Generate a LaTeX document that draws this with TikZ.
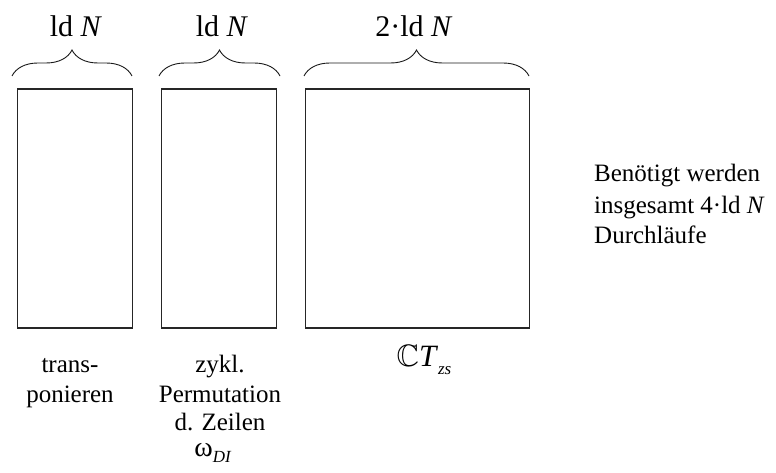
\documentclass[tikz,border=0pt]{standalone}
\usepackage{amssymb}
\DeclareFontFamily{U}{msb}{}
\DeclareFontShape{U}{msb}{m}{n}{<-> msbm10}{}
\usepackage{fontspec}
\setmainfont{Liberation Serif}
\usetikzlibrary{decorations.pathreplacing}
\tikzset{
  boxnode/.style={draw=black!85, line width=1.1pt, inner sep=0pt},
  bracepath/.style={draw=black!90, line width=0.9pt, decorate, decoration={brace, amplitude=26pt}},
  toplabel/.style={anchor=base, inner sep=0pt, font=\fontsize{30}{34}\selectfont},
  txt/.style={anchor=base, inner sep=0pt, font=\fontsize{25}{30}\selectfont},
  txtl/.style={anchor=base west, inner sep=0pt, font=\fontsize{25}{30}\selectfont}
}
\newcommand{\subtxt}[1]{\raisebox{-0.26em}{\fontsize{17}{17}\selectfont\textit{#1}}}
\begin{document}
\begin{tikzpicture}[x=1pt,y=-1pt]
\useasboundingbox (0,0) rectangle (776,473);
% boxes
\node[boxnode, minimum width=115pt, minimum height=239pt] (b1) at (75,208.5) {};
\node[boxnode, minimum width=115pt, minimum height=239pt] (b2) at (219.2,208.5) {};
\node[boxnode, minimum width=224pt, minimum height=239pt] (b3) at (417.6,208.5) {};
% braces
\coordinate (b1l) at (12,76); \coordinate (b1r) at (132,76);
\coordinate (b2l) at (159,76); \coordinate (b2r) at (280,76);
\coordinate (b3l) at (304,76); \coordinate (b3r) at (529,76);
\draw[bracepath] (b1l) -- (b1r);
\draw[bracepath] (b2l) -- (b2r);
\draw[bracepath] (b3l) -- (b3r);
% top labels
\node[toplabel] (t1) at (76,37) {ld \textit{N}};
\node[toplabel] (t2) at (222,37) {ld \textit{N}};
\node[toplabel] (t3) at (414,37) {2·ld \textit{N}};
% bottom labels
\node[txt] (l1a) at (70,372) {trans-};
\node[txt] (l1b) at (70,402) {ponieren};
\node[txt] (l2a) at (220,372) {zykl.};
\node[txt] (l2b) at (220,402) {Permutation};
\node[txt] (l2c) at (220,430) {d. Zeilen};
\node[txt] (l2d) at (213,456) {{\fontsize{28}{30}\selectfont ω}\subtxt{DI}};
\node[anchor=base, inner sep=0pt, font=\fontsize{31}{34}\selectfont] (l3) at (424,366) {$\mathbb{C}$\textit{T}\subtxt{zs}};
% right text
\node[txtl] (r1) at (594,182) {Benötigt werden};
\node[txtl] (r2) at (594,213) {insgesamt 4·ld \textit{N}};
\node[txtl] (r3) at (594,243) {Durchläufe};
\end{tikzpicture}
\end{document}
